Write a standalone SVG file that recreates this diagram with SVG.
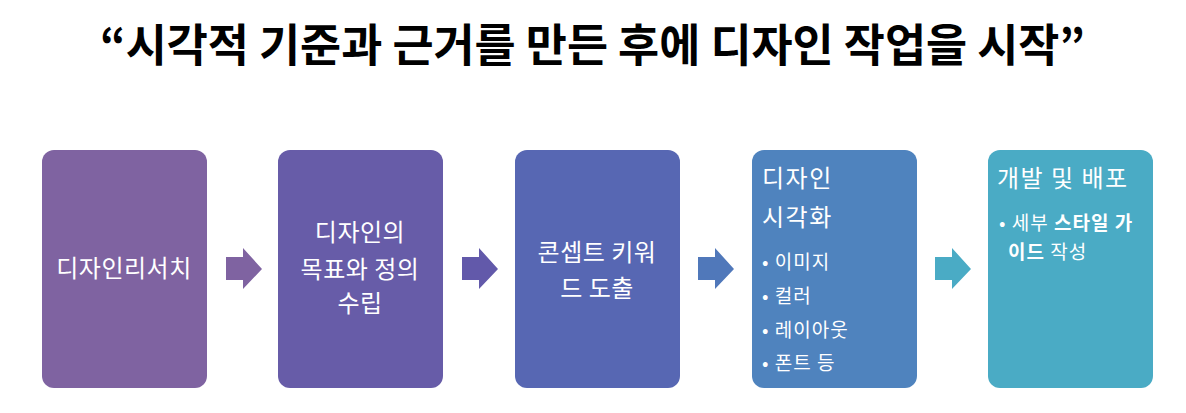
<svg xmlns="http://www.w3.org/2000/svg" width="1186" height="413" viewBox="0 0 1186 413">
<style>
.t{font-family:"Noto Sans CJK KR","Noto Sans",sans-serif;fill:#fff;font-size:24px;letter-spacing:0.5px}
.c{text-anchor:middle}
.s{font-size:19px;letter-spacing:1px}
.b{font-weight:bold}
.h{letter-spacing:1.5px}
.title{font-family:"Noto Sans CJK KR","Noto Sans",sans-serif;font-size:45px;font-weight:bold;fill:#000}
</style>
<rect width="1186" height="413" fill="#fff"/>
<text class="title" x="100" y="62" textLength="985" lengthAdjust="spacingAndGlyphs">“시각적 기준과 근거를 만든 후에 디자인 작업을 시작”</text>
<g id="n1">
<rect x="42" y="150" width="165" height="238" rx="12" fill="#7F63A1"/>
<text class="t c" x="124" y="277">디자인리서치</text>
</g>
<g id="n2">
<rect x="278" y="150" width="165" height="238" rx="12" fill="#675CA8"/>
<text class="t c" x="360" y="241">디자인의</text>
<text class="t c" x="360" y="278">목표와 정의</text>
<text class="t c" x="360" y="312">수립</text>
</g>
<g id="n3">
<rect x="515" y="150" width="165" height="238" rx="12" fill="#5767B3"/>
<text class="t c" x="597" y="261">콘셉트 키워</text>
<text class="t c" x="597" y="297">드 도출</text>
</g>
<g id="n4">
<rect x="752" y="150" width="165" height="238" rx="12" fill="#4F83BE"/>
<text class="t h" x="762" y="187">디자인</text>
<text class="t h" x="762" y="226">시각화</text>
<text class="t s" x="762" y="269">• 이미지</text>
<text class="t s" x="762" y="303">• 컬러</text>
<text class="t s" x="762" y="337">• 레이아웃</text>
<text class="t s" x="762" y="370">• 폰트 등</text>
</g>
<g id="n5">
<rect x="988" y="150" width="165" height="238" rx="12" fill="#4AABC5"/>
<text class="t h" x="997" y="187">개발 및 배포</text>
<text class="t s" x="999" y="230">• 세부 <tspan class="b">스타일 가</tspan></text>
<text class="t s" x="1008" y="259"><tspan class="b">이드</tspan> 작성</text>
</g>
<g id="connectors">
<path d="M226,257H243V248L262,269L243,289V280H226Z" fill="#7F63A1"/>
<path d="M462,257H479V248L498,269L479,289V280H462Z" fill="#6259AA"/>
<path d="M698,257H715V248L734,269L715,289V280H698Z" fill="#5078BA"/>
<path d="M935,257H952V248L971,269L952,289V280H935Z" fill="#4AABC5"/>
</g>
</svg>
